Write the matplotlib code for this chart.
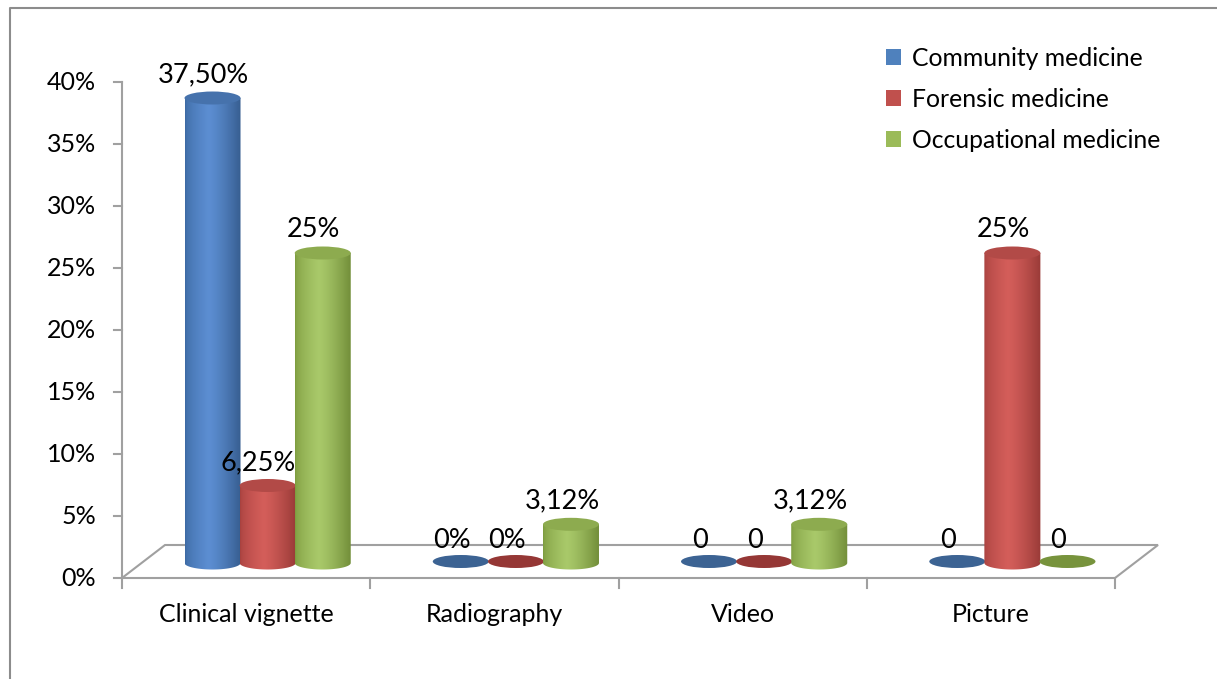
import numpy as np
import matplotlib
matplotlib.use("Agg")
import matplotlib.pyplot as plt
from matplotlib.patches import PathPatch, Ellipse, Patch
from matplotlib.path import Path
from matplotlib.colors import to_rgb

plt.rcParams['font.family'] = ['Lato', 'DejaVu Sans']

# ---- data ----
categories = ["Clinical vignette", "Radiography", "Video", "Picture"]
series_names = ["Community medicine", "Forensic medicine", "Occupational medicine"]
community = [37.5, 0, 0, 0]
forensic = [6.25, 0, 0, 25]
occupational = [25, 3.12, 3.12, 0]
community_labels = ["37,50%", "0%", "0", "0"]
forensic_labels = ["6,25%", "0%", "0", "25%"]
occupational_labels = ["25%", "3,12%", "3,12%", "0"]
yticks = [0, 5, 10, 15, 20, 25, 30, 35, 40]
ytick_labels = ["0%", "5%", "10%", "15%", "20%", "25%", "30%", "35%", "40%"]

values = [community, forensic, occupational]
labels = [community_labels, forensic_labels, occupational_labels]

# colour styles: (left edge, highlight, right edge, top, flat zero ellipse, legend)
styles = [
    ("#3D6AA3", "#5C8ED2", "#375E91", "#4672AC", "#3C6393", "#4F81BD"),
    ("#A8423F", "#D45E5A", "#9A3B38", "#B24A47", "#953735", "#C0504D"),
    ("#7E9C40", "#A9C96A", "#738F3A", "#8DAB4F", "#77933C", "#9BBB59"),
]

W, H = 1217, 679
DPI = 100
fig = plt.figure(figsize=(W / DPI, H / DPI), dpi=DPI)
ax = fig.add_axes([0, 0, 1, 1])

# pixel mapping: x=0 -> 122px, 1 cat = 248.25px ; y=0 -> 578px (from top), 1% = 12.4px
X0, XS = 122.0, 248.25
Y0, YS = 578.0, 12.4
ax.set_xlim(-X0 / XS, (W - X0) / XS)
ax.set_ylim((Y0 - H) / YS, Y0 / YS)
ax.axis('off')

def px(dx):
    return dx / XS
def py(dy):
    return dy / YS

ncat = len(categories)
grid_c = '#A0A0A0'
# floor
depth_x, depth_y = px(43), py(33)
ax.plot([0, depth_x, ncat + depth_x, ncat, 0], [0, depth_y, depth_y, 0, 0],
        color=grid_c, lw=1.5, solid_joinstyle='miter', zorder=1)
# y axis
ax.plot([0, 0], [0, yticks[-1]], color=grid_c, lw=1.5, zorder=1)
for t, lab in zip(yticks, ytick_labels):
    ax.plot([-px(8), 0], [t, t], color=grid_c, lw=1.5, zorder=1)
    ax.text(-px(26), t, lab, ha='right', va='center', fontsize=18, color='black')
# category ticks
for i in range(ncat + 1):
    ax.plot([i, i], [0, -py(10)], color=grid_c, lw=1.5, zorder=1)
for i, c in enumerate(categories):
    ax.text(i + 0.5, -py(37), c, ha='center', va='center', fontsize=18, color='black')

# outer chart border
ax.plot([px(10 - X0), px(10 - X0), px(W + 5 - X0)], [py(Y0 - H - 5), py(Y0 - 8), py(Y0 - 8)],
        color='#8C8C8C', lw=1.5, zorder=0)

# cylinders
cw = 0.222
ew, eh = px(56), py(13)
dxs, dys = px(21.5), py(15)

def gradient_img(left, light, right, n=64):
    t = np.linspace(0, 1, n)
    l, m, r = np.array(to_rgb(left)), np.array(to_rgb(light)), np.array(to_rgb(right))
    img = np.zeros((1, n, 3))
    for k, tt in enumerate(t):
        if tt < 0.42:
            s = (tt / 0.42) ** 0.6
            img[0, k] = l + (m - l) * s
        else:
            s = ((tt - 0.42) / 0.58) ** 1.3
            img[0, k] = m + (r - m) * s
    return img

theta = np.linspace(np.pi, 2 * np.pi, 40)
for j, (vals, labs) in enumerate(zip(values, labels)):
    left, light, right, top, flat, _ = styles[j]
    for i, (v, lab) in enumerate(zip(vals, labs)):
        cx = i + 0.5 + (j - 1) * cw + dxs
        cy0 = dys
        z = 3 + i * 0.1 + j * 0.01
        if v > 0:
            cy1 = cy0 + v
            pts = [(cx - ew / 2, cy1), (cx - ew / 2, cy0)]
            pts += [(cx + ew / 2 * np.cos(a), cy0 + eh / 2 * np.sin(a)) for a in theta]
            pts += [(cx + ew / 2, cy1), (cx - ew / 2, cy1)]
            path = Path(pts)
            patch = PathPatch(path, facecolor='none', edgecolor='none', zorder=z)
            ax.add_patch(patch)
            im = ax.imshow(gradient_img(left, light, right), extent=[cx - ew / 2, cx + ew / 2, cy0 - eh, cy1],
                           aspect='auto', interpolation='bilinear', zorder=z)
            im.set_clip_path(patch)
            ax.add_patch(Ellipse((cx, cy1), ew, eh, angle=0, facecolor=top, edgecolor='none', zorder=z + 0.001))
            ytop = cy1
        else:
            ax.add_patch(Ellipse((cx, cy0 + py(1.5)), ew, eh, facecolor=flat, edgecolor='none', zorder=z))
            ytop = cy0
        ax.text(cx - px(9), ytop + py(23), lab, ha='center', va='center', fontsize=19.5,
                color='black', zorder=10)

ax.set_xlim(-X0 / XS, (W - X0) / XS)
ax.set_ylim((Y0 - H) / YS, Y0 / YS)

# legend
handles = [Patch(facecolor=s[5], edgecolor='none') for s in styles]
leg = ax.legend(handles, series_names, loc='upper left', bbox_to_anchor=(886 / W, 1 - 47 / H),
                bbox_transform=fig.transFigure, frameon=False, fontsize=17.8,
                handlelength=0.6, handleheight=0.6, handletextpad=0.45, labelspacing=0.72,
                borderpad=0, borderaxespad=0)

fig.savefig("out.png", dpi=DPI)
